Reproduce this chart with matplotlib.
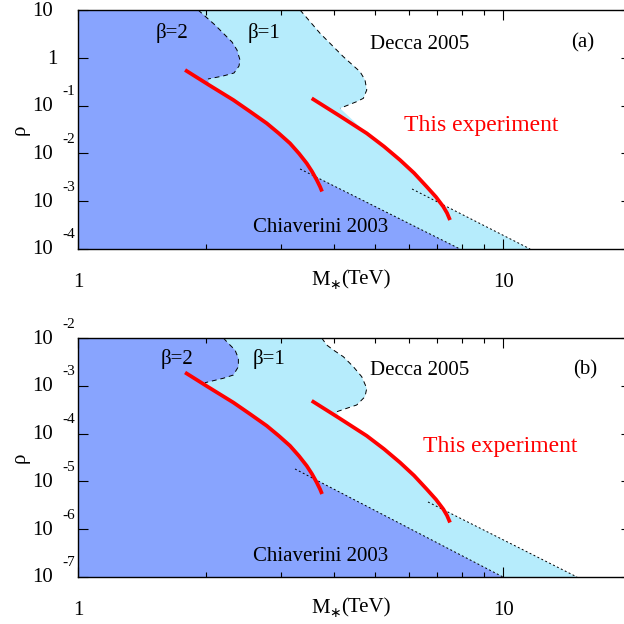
import numpy as np
import matplotlib
matplotlib.use("Agg")
from matplotlib import pyplot as plt
from matplotlib import transforms
from matplotlib.ticker import NullLocator, NullFormatter

plt.rcParams['font.family'] = ['Liberation Serif', 'DejaVu Serif']

DARK = '#88a4fe'
LIGHT = '#b6ecfc'
RED = '#ff0000'

# ---- panel (a) ----
a_dash2_x = [1.917, 2.101, 2.303, 2.366, 2.405, 2.392, 2.328, 2.194, 2.022]
a_dash2_y = [10, 4.85, 2.14, 1.46, 0.90, 0.673, 0.481, 0.416, 0.360]
a_red2_x = [1.786, 2.033, 2.320, 2.539, 2.780, 2.971, 3.153, 3.311, 3.452, 3.553, 3.645, 3.711, 3.751]
a_red2_y = [0.5557, 0.2698, 0.1310, 0.07524, 0.04263, 0.02608, 0.01627, 0.009952, 0.006207,
            0.004181, 0.002777, 0.002010, 0.001595]
a_chia2_x = [3.33, 7.92]
a_chia2_y = [0.00472, 1e-4]

a_dash1_x = [3.330, 3.711, 4.210, 4.608, 4.734, 4.779, 4.692, 4.526, 4.136]
a_dash1_y = [10, 3.254, 1.054, 0.512, 0.343, 0.212, 0.142, 0.121, 0.0879]
a_red1_x = [3.547, 4.113, 4.778, 5.248, 5.723, 6.174, 6.614, 6.955, 7.236, 7.382, 7.503]
a_red1_y = [0.1421, 0.06207, 0.02634, 0.01394, 0.007275, 0.003890, 0.002010, 0.001224,
            0.000767, 0.000566, 0.000404]
a_chia1_x = [6.108, 11.58]
a_chia1_y = [0.0018, 1e-4]

# ---- panel (b) ----
b_dash2_x = [2.198, 2.257, 2.341, 2.384, 2.384, 2.320, 2.198, 2.082, 1.990]
b_dash2_y = [0.01, 0.00775, 0.00561, 0.00376, 0.00251, 0.00168, 0.00144, 0.00128, 0.00116]
b_red2_x = [1.786, 2.033, 2.320, 2.539, 2.780, 2.971, 3.153, 3.311, 3.452, 3.553, 3.645, 3.711, 3.751]
b_red2_y = [0.001898, 0.000921, 0.000447, 0.000257, 0.0001456, 8.91e-5, 5.56e-5, 3.40e-5, 2.12e-5,
            1.428e-5, 9.48e-6, 6.87e-6, 5.45e-6]
b_chia2_x = [3.24, 10.0]
b_chia2_y = [1.82e-5, 1e-7]

b_dash1_x = [3.745, 3.847, 3.988, 4.210, 4.444, 4.651, 4.779, 4.734, 4.526, 4.288, 4.062]
b_dash1_y = [0.01, 0.00714, 0.00561, 0.00406, 0.00251, 0.00155, 0.000887, 0.000592, 0.000397,
             0.000338, 0.000287]
b_red1_x = [3.547, 4.113, 4.778, 5.248, 5.723, 6.174, 6.614, 6.955, 7.236, 7.382, 7.503]
b_red1_y = [0.000486, 0.000212, 8.99e-5, 4.76e-5, 2.485e-5, 1.328e-5, 6.87e-6, 4.18e-6,
            2.62e-6, 1.934e-6, 1.381e-6]
b_chia1_x = [6.66, 14.93]
b_chia1_y = [3.71e-6, 1e-7]

XMIN, XMAX = 1, 20


def crossing(rx, ry, lx, ly):
    # where the red curve goes below the (log-log straight) Chiaverini line
    lrx, lry = np.log10(rx), np.log10(ry)
    llx, lly = np.log10(lx), np.log10(ly)
    slope = (lly[1] - lly[0]) / (llx[1] - llx[0])
    d = lry - (lly[0] + slope * (lrx - llx[0]))
    for i in range(len(d) - 1):
        if d[i] > 0 and d[i + 1] <= 0:
            f = d[i] / (d[i] - d[i + 1])
            return i, 10 ** (lrx[i] + f * (lrx[i + 1] - lrx[i])), 10 ** (lry[i] + f * (lry[i + 1] - lry[i]))
    return len(d) - 1, rx[-1], ry[-1]


def region(ax, dx, dy, rx, ry, lx, ly, ytop, ybot, color):
    i, cx, cy = crossing(rx, ry, lx, ly)
    px = [XMIN] + list(dx)
    py = [ytop] + list(dy)
    for x, y in zip(rx[:i + 1], ry[:i + 1]):
        if x > dx[-1]:
            px.append(x)
            py.append(y)
    px += [cx, lx[-1], XMIN]
    py += [cy, ly[-1], ybot]
    ax.fill(px, py, color=color, lw=0, zorder=1)


def ylabels(ax, exps):
    fig = ax.figure
    tr = ax.get_yaxis_transform()
    for e in exps:
        y = 10.0 ** e
        if e == 0:
            t = transforms.offset_copy(tr, fig, x=-20, y=-2, units='dots')
            ax.text(0, y, '1', transform=t, ha='right', va='center', fontsize=15, clip_on=False)
        elif e == 1:
            t = transforms.offset_copy(tr, fig, x=-25, y=-1, units='dots')
            ax.text(0, y, '10', transform=t, ha='right', va='center', fontsize=15, clip_on=False)
        else:
            t = transforms.offset_copy(tr, fig, x=-25, y=-1, units='dots')
            ax.text(0, y, '10', transform=t, ha='right', va='center', fontsize=15, clip_on=False)
            t2 = transforms.offset_copy(tr, fig, x=-16, y=14, units='dots')
            ax.text(0, y, str(e), transform=t2, ha='left', va='center', fontsize=11, clip_on=False)


def xlabel(ax, ypos):
    fig = ax.figure
    x0 = (330 - 78) / 553
    base = ax.transAxes
    ax.text(x0, ypos, 'M', transform=transforms.offset_copy(base, fig, x=0, y=0, units='dots'),
            ha='right', va='center', fontsize=15)
    ax.text(x0, ypos, '∗', transform=transforms.offset_copy(base, fig, x=5, y=-5, units='dots'),
            ha='center', va='center', fontsize=10, family=['DejaVu Sans'])
    ax.text(x0, ypos, '(TeV)', transform=transforms.offset_copy(base, fig, x=11, y=0, units='dots'),
            ha='left', va='center', fontsize=15)


def panel(ax, d, ylim, exps, tag, pos):
    (dash2x, dash2y, red2x, red2y, ch2x, ch2y,
     dash1x, dash1y, red1x, red1y, ch1x, ch1y) = d
    ybot, ytop = ylim
    region(ax, dash1x, dash1y, red1x, red1y, ch1x, ch1y, ytop, ybot, LIGHT)
    region(ax, dash2x, dash2y, red2x, red2y, ch2x, ch2y, ytop, ybot, DARK)
    for dx, dy in [(dash2x, dash2y), (dash1x, dash1y)]:
        ax.plot(dx, dy, color='black', lw=0.7, ls=(0, (5, 4)), zorder=3)
    for lx, ly in [(ch2x, ch2y), (ch1x, ch1y)]:
        ax.plot(lx, ly, color='black', lw=0.7, ls=(0, (2, 2.5)), zorder=3)
    for rx, ry in [(red2x, red2y), (red1x, red1y)]:
        ax.plot(rx, ry, color=RED, lw=2.7, zorder=4, solid_capstyle='butt', solid_joinstyle='round')

    ax.set_xscale('log')
    ax.set_yscale('log')
    ax.set_xlim(XMIN, XMAX)
    ax.set_ylim(ybot, ytop)
    ax.set_xticks([1, 10])
    ax.set_xticklabels(['1', '10'], fontsize=15)
    ax.set_xticks([2, 3, 4, 5, 6, 7, 8, 9, 20], minor=True)
    ax.xaxis.set_minor_formatter(NullFormatter())
    ax.set_yticks(10.0 ** np.array(exps))
    ax.yaxis.set_major_formatter(NullFormatter())
    ax.yaxis.set_minor_locator(NullLocator())
    ax.tick_params(which='both', direction='in', top=True, right=True, width=0.8)
    ax.tick_params(which='major', length=7, pad=17)
    ax.tick_params(which='minor', length=3.6)
    for s in ax.spines.values():
        s.set_linewidth(1.0)
        s.set_zorder(6)
    ylabels(ax, exps)
    xlabel(ax, pos['xl'])

    ax.text(-0.105, 0.5, 'ρ', transform=ax.transAxes, rotation=90, ha='center', va='center', fontsize=15)
    ax.text(pos['b2'][0], pos['b2'][1], 'β=2', transform=ax.transAxes, ha='center', va='center', fontsize=15, zorder=5)
    ax.text(pos['b1'][0], pos['b1'][1], 'β=1', transform=ax.transAxes, ha='center', va='center', fontsize=15, zorder=5)
    ax.text(pos['de'][0], pos['de'][1], 'Decca 2005', transform=ax.transAxes, ha='center', va='center', fontsize=15, zorder=5)
    ax.text(pos['tag'][0], pos['tag'][1], tag, transform=ax.transAxes, ha='center', va='center', fontsize=15, zorder=5)
    ax.text(pos['te'][0], pos['te'][1], 'This experiment', transform=ax.transAxes, ha='center', va='center',
            fontsize=17, color=RED, zorder=5)
    ax.text(pos['ch'][0], pos['ch'][1], 'Chiaverini 2003', transform=ax.transAxes, ha='center', va='center',
            fontsize=15, zorder=5)


fig = plt.figure(figsize=(6.24, 6.24), dpi=100)
ax_a = fig.add_axes([78 / 624, (624 - 249) / 624, 553 / 624, 239 / 624])
ax_b = fig.add_axes([78 / 624, (624 - 577) / 624, 553 / 624, 239 / 624])

panel(ax_a,
      (a_dash2_x, a_dash2_y, a_red2_x, a_red2_y, a_chia2_x, a_chia2_y,
       a_dash1_x, a_dash1_y, a_red1_x, a_red1_y, a_chia1_x, a_chia1_y),
      (1e-4, 10), [-4, -3, -2, -1, 0, 1], '(a)',
      {'xl': -0.13, 'b2': (0.170, 0.904), 'b1': (0.336, 0.904), 'de': (0.617, 0.854),
       'tag': (0.913, 0.862), 'te': (0.729, 0.515), 'ch': (0.439, 0.088)})
panel(ax_b,
      (b_dash2_x, b_dash2_y, b_red2_x, b_red2_y, b_chia2_x, b_chia2_y,
       b_dash1_x, b_dash1_y, b_red1_x, b_red1_y, b_chia1_x, b_chia1_y),
      (1e-7, 1e-2), [-7, -6, -5, -4, -3, -2], '(b)',
      {'xl': -0.13, 'b2': (0.179, 0.912), 'b1': (0.345, 0.912), 'de': (0.618, 0.866),
       'tag': (0.917, 0.866), 'te': (0.763, 0.548), 'ch': (0.438, 0.084)})

fig.savefig('out.png', dpi=100)
